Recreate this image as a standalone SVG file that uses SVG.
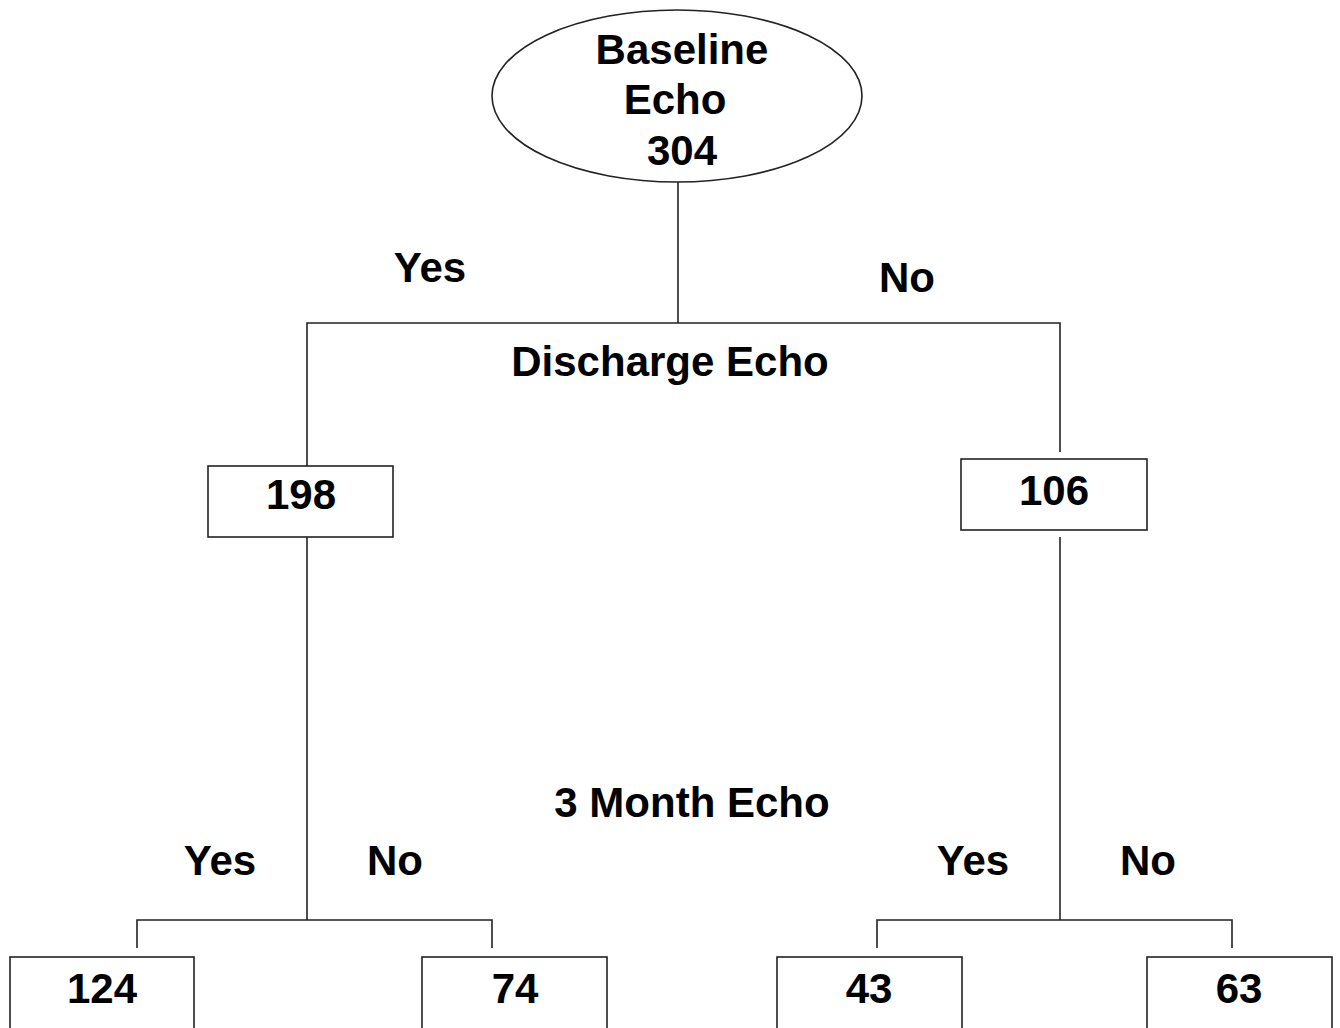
<svg xmlns="http://www.w3.org/2000/svg" width="1340" height="1028" viewBox="0 0 1340 1028">
<style>
.t{font-family:"Liberation Sans",Arial,sans-serif;font-weight:bold;font-size:42px;fill:#000;text-anchor:middle}
.s{fill:#fff;stroke:#222;stroke-width:1.6}
.c{fill:none;stroke:#222;stroke-width:1.6}
</style>
<rect width="1340" height="1028" fill="#fff"/>
<g id="connectors">
<path class="c" d="M678 181V323"/>
<path class="c" d="M307 466V323H1060V452"/>
<path class="c" d="M307 537V920"/>
<path class="c" d="M137 948V920H492V948"/>
<path class="c" d="M1060 537V920"/>
<path class="c" d="M877 948V920H1232V948"/>
</g>
<g id="labels">
<text class="t" x="430" y="282">Yes</text>
<text class="t" x="907" y="292">No</text>
<text class="t" x="670" y="376">Discharge Echo</text>
<text class="t" x="692" y="817">3 Month Echo</text>
<text class="t" x="220" y="875">Yes</text>
<text class="t" x="395" y="875">No</text>
<text class="t" x="973" y="875">Yes</text>
<text class="t" x="1148" y="875">No</text>
</g>
<g id="baseline">
<ellipse class="s" cx="677" cy="96" rx="185" ry="86"/>
<text class="t" x="682" y="64">Baseline</text>
<text class="t" x="675" y="114">Echo</text>
<text class="t" x="682" y="165">304</text>
</g>
<g id="n198">
<rect class="s" x="208" y="466" width="185" height="71"/>
<text class="t" x="301" y="509">198</text>
</g>
<g id="n106">
<rect class="s" x="961" y="459" width="186" height="71"/>
<text class="t" x="1054" y="505">106</text>
</g>
<g id="n124">
<rect class="s" x="10" y="957" width="184" height="75"/>
<text class="t" x="102" y="1003">124</text>
</g>
<g id="n74">
<rect class="s" x="422" y="957" width="185" height="75"/>
<text class="t" x="515" y="1003">74</text>
</g>
<g id="n43">
<rect class="s" x="777" y="957" width="185" height="75"/>
<text class="t" x="869" y="1003">43</text>
</g>
<g id="n63">
<rect class="s" x="1147" y="957" width="185" height="75"/>
<text class="t" x="1239" y="1003">63</text>
</g>
</svg>
